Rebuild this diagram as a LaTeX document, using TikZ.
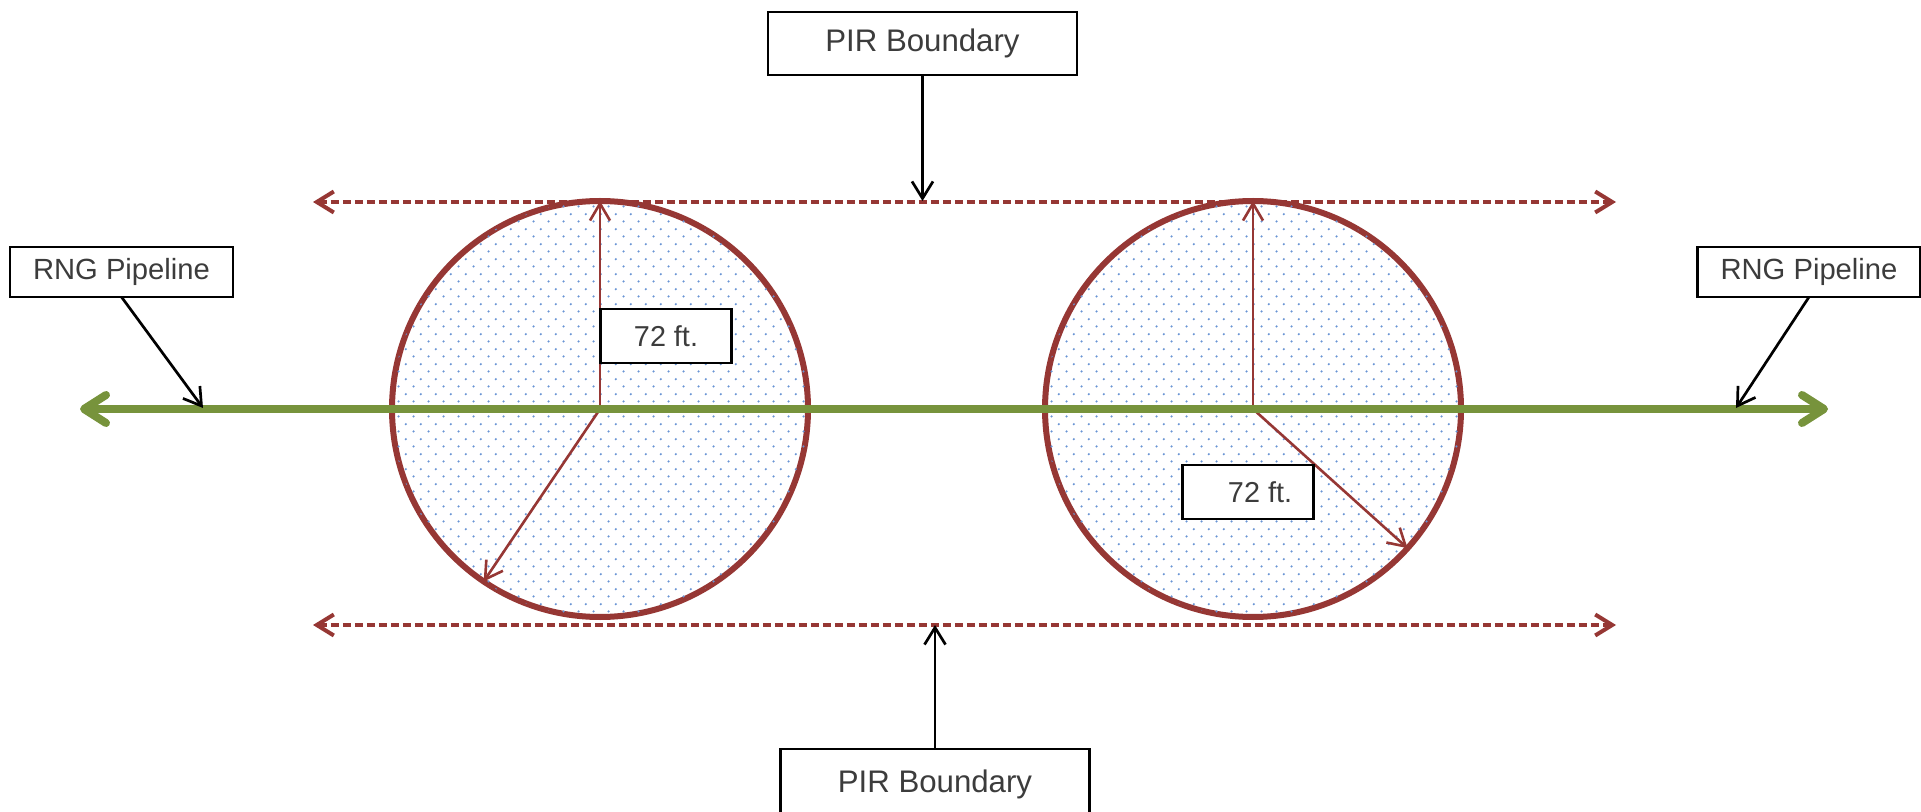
\documentclass[tikz,border=0pt]{standalone}
\usepackage{fontspec}
\setmainfont{Liberation Sans}
\usetikzlibrary{arrows.meta,patterns}
\definecolor{pirred}{RGB}{150,55,52}
\definecolor{pipegreen}{RGB}{119,147,60}
\definecolor{dotblue}{RGB}{105,148,212}
\definecolor{txtgray}{RGB}{60,60,60}
\pgfdeclarepatternformonly{sitedots}{\pgfpoint{0pt}{0pt}}{\pgfpoint{7.6pt}{7.6pt}}{\pgfpoint{7.6pt}{7.6pt}}{%
  \pgfpathcircle{\pgfpoint{1.9pt}{1.9pt}}{0.65pt}%
  \pgfpathcircle{\pgfpoint{5.7pt}{5.7pt}}{0.65pt}%
  \pgfusepath{fill}}
\begin{document}
\begin{tikzpicture}[x=0.5pt,y=-0.5pt,
  box/.style={draw=black, line width=1.3pt, fill=white, inner sep=0pt, outer sep=0pt, text=txtgray},
  pirbox/.style={box, minimum width=154.5pt, minimum height=31.5pt, font=\fontsize{15.6pt}{18pt}\selectfont},
  rngbox/.style={box, minimum width=111.5pt, minimum height=25pt, font=\fontsize{14.6pt}{17pt}\selectfont},
  ftbox/.style={box, minimum width=65.5pt, minimum height=27pt, font=\fontsize{14.4pt}{17pt}\selectfont},
  zone/.style={circle, draw=pirred, line width=3pt, minimum size=208pt, inner sep=0pt, outer sep=0pt, fill=white, postaction={pattern=sitedots, pattern color=dotblue}},
  callout/.style={draw=black, line width=1.35pt, -{Straight Barb[length=8.5pt, width=10.5pt]}},
  radius/.style={draw=pirred, line width=1.3pt, -{Straight Barb[length=8.5pt, width=10pt]}},
  boundary/.style={draw=pirred, line width=2pt, dash pattern=on 4pt off 2pt, {Straight Barb[length=8.5pt, width=10.5pt]}-{Straight Barb[length=8.5pt, width=10.5pt]}},
  pipe/.style={draw=pipegreen, line width=4pt, {Straight Barb[length=11pt, width=14pt, round]}-{Straight Barb[length=11pt, width=14pt, round]}}
]
\useasboundingbox (0,0) rectangle (1921,812);

% dotted zones
\node[zone] (c1) at (600,409) {};
\node[zone] (c2) at (1253,409) {};

% dashed boundaries
\coordinate (bt1) at (313,202);
\coordinate (bt2) at (1616,202);
\coordinate (bb1) at (313,625);
\coordinate (bb2) at (1616,625);
\draw[boundary] (bt1) -- (bt2);
\draw[boundary] (bb1) -- (bb2);

% radius arrows
\draw[radius] (c1.center) -- (c1.north);
\draw[radius] (c1.center) -- (c1.236.85);
\draw[radius] (c2.center) -- (c2.north);
\draw[radius] (c2.center) -- (c2.-42.3);

% pipeline
\coordinate (pl) at (80,409);
\coordinate (pr) at (1828,409);
\draw[pipe] (pl) -- (pr);

% labels
\node[ftbox] (ft1) at (666,336) {72 ft.};
\node[ftbox] (ft2) at (1248,492) {\hspace{12pt}72 ft.};

\node[pirbox] (pirT) at (922.5,43.5) {PIR Boundary};
\node[pirbox, minimum height=35pt, anchor=north] (pirB) at (935,749) {\raisebox{2pt}{PIR Boundary}};
\node[rngbox] (rngL) at (121.5,272) {RNG Pipeline};
\node[rngbox] (rngR) at (1809,272) {RNG Pipeline};

% callout arrows
\coordinate (tT) at (922.5,201);
\coordinate (tB) at (935,625);
\coordinate (tL) at (203,408);
\coordinate (tR) at (1736,408);
\draw[callout] (pirT.south) -- (tT);
\draw[callout] (pirB.north) -- (tB);
\draw[callout] (rngL.south) -- (tL);
\draw[callout] (rngR.south) -- (tR);
\end{tikzpicture}
\end{document}
